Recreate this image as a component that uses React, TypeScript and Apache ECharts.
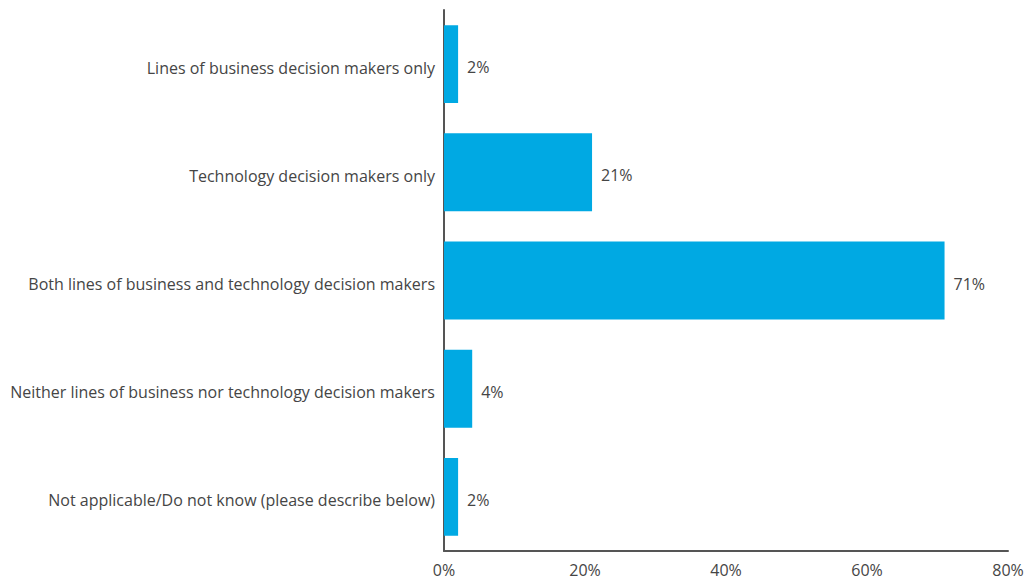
import React, { useEffect, useRef } from "react";
import * as echarts from "echarts";

const categories = [
  "Lines of business decision makers only",
  "Technology decision makers only",
  "Both lines of business and technology decision makers",
  "Neither lines of business nor technology decision makers",
  "Not applicable/Do not know (please describe below)",
];
const values = [2, 21, 71, 4, 2];
const xTicks = [0, 20, 40, 60, 80];

export default function App() {
  const ref = useRef<HTMLDivElement>(null);
  useEffect(() => {
    document.body.style.margin = "0";
    const chart = echarts.init(ref.current!, null, { renderer: "svg" });
    const font = "'Open Sans', 'Noto Sans', sans-serif";
    chart.setOption({
      animation: false,
      backgroundColor: "#ffffff",
      grid: {
        left: 444,
        right: 18,
        top: 10,
        bottom: 33,
        containLabel: false,
        outerBoundsMode: "none",
      },
      xAxis: {
        type: "value",
        min: xTicks[0],
        max: xTicks[xTicks.length - 1],
        interval: 20,
        axisLine: { show: true, lineStyle: { color: "#555555", width: 2 } },
        axisTick: { show: false },
        splitLine: { show: false },
        axisLabel: {
          formatter: "{value}%",
          color: "#454545",
          fontFamily: font,
          fontSize: 16,
          margin: 11,
        },
      },
      yAxis: {
        type: "category",
        inverse: true,
        data: categories,
        axisLine: { show: true, onZero: false, lineStyle: { color: "#555555", width: 2 } },
        axisTick: { show: false },
        axisLabel: {
          color: "#454545",
          fontFamily: font,
          fontSize: 16,
          margin: 9,
          formatter: (v: string) => "{a|" + v + "}",
          rich: {
            a: {
              color: "#454545",
              fontFamily: font,
              fontSize: 16,
              padding: [7, 0, 0, 0],
            },
          },
        },
      },
      series: [
        {
          type: "bar",
          data: values,
          barWidth: "72%",
          itemStyle: { color: "#00A9E3" },
          label: {
            show: true,
            position: "right",
            distance: 9,
            offset: [0, 3],
            formatter: "{c}%",
            color: "#454545",
            fontFamily: font,
            fontSize: 16,
          },
        },
      ],
    });
    return () => chart.dispose();
  }, []);
  return <div ref={ref} style={{ width: 1026, height: 584 }} />;
}
